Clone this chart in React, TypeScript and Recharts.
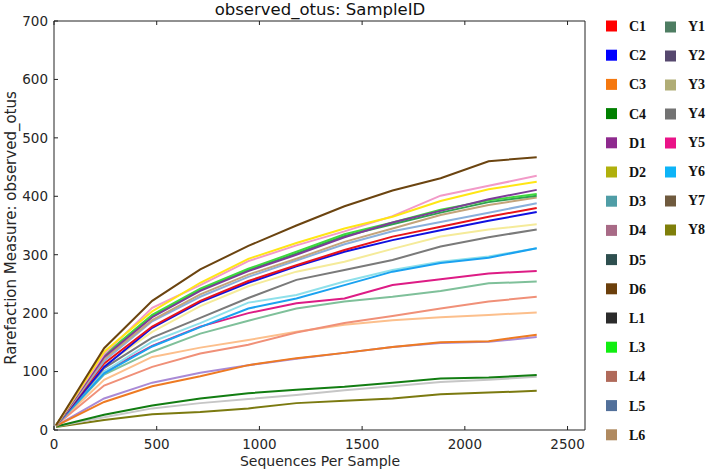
import { LineChart, Line, XAxis, YAxis } from 'recharts';

// sequencing depths (x) shared by every curve
const depths = [10, 244, 478, 712, 946, 1180, 1414, 1648, 1882, 2116, 2350];

const C1 = [8, 114, 177, 221, 255, 282, 308, 331, 348, 365, 380];
const C2 = [8, 108, 175, 219, 252, 280, 305, 325, 342, 358, 373];
const C3 = [7, 48, 75, 92, 111, 123, 132, 142, 150, 152, 163];
const C4 = [6, 26, 42, 54, 63, 69, 74, 81, 88, 90, 94];
const D1 = [8, 125, 193, 238, 272, 300, 330, 355, 375, 395, 411];
const D2 = [8, 134, 203, 252, 293, 320, 345, 365, 392, 412, 425];
const D3 = [8, 100, 151, 183, 218, 231, 254, 274, 288, 297, 311];
const D4 = [8, 130, 209, 248, 289, 316, 340, 366, 401, 418, 435];
const D5 = [8, 127, 195, 240, 274, 302, 332, 352, 372, 390, 401];
const D6 = [8, 140, 221, 275, 315, 350, 383, 410, 431, 460, 467];
const L1 = [8, 106, 158, 192, 226, 257, 274, 291, 314, 330, 343];
const L3 = [8, 128, 197, 242, 276, 305, 335, 355, 377, 393, 404];
const L4 = [8, 76, 108, 131, 146, 167, 183, 195, 208, 220, 228];
const L5 = [8, 118, 186, 228, 262, 290, 318, 340, 356, 372, 388];
const L6 = [8, 122, 188, 232, 266, 293, 322, 345, 368, 385, 398];
const Y1 = [8, 95, 134, 165, 187, 208, 220, 228, 238, 251, 254];
const Y2 = [7, 54, 81, 98, 111, 122, 132, 142, 149, 151, 159];
const Y3 = [8, 110, 168, 212, 246, 271, 288, 310, 331, 343, 352];
const Y4 = [6, 22, 37, 46, 53, 60, 68, 75, 82, 86, 91];
const Y5 = [8, 100, 144, 177, 200, 217, 225, 248, 258, 268, 272];
const Y6 = [8, 97, 143, 176, 208, 225, 248, 271, 286, 295, 311];
const Y7 = [8, 86, 125, 141, 154, 168, 180, 188, 193, 197, 201];
const Y8 = [5, 17, 27, 31, 37, 46, 50, 54, 61, 64, 67];

const seriesValues: Record<string, number[]> = {
  C1, C2, C3, C4, D1, D2, D3, D4, D5, D6, L1, L3, L4, L5, L6,
  Y1, Y2, Y3, Y4, Y5, Y6, Y7, Y8,
};

const legendCol1 = ['C1', 'C2', 'C3', 'C4', 'D1', 'D2', 'D3', 'D4', 'D5', 'D6', 'L1', 'L3', 'L4', 'L5', 'L6'];
const legendCol2 = ['Y1', 'Y2', 'Y3', 'Y4', 'Y5', 'Y6', 'Y7', 'Y8'];

// legend swatch colours (as printed in the legend)
const legendColors: Record<string, string> = {
  C1: '#ff0000', C2: '#0000ff', C3: '#f5780f', C4: '#008000',
  D1: '#8e2a8e', D2: '#b0b00c', D3: '#4f9da6', D4: '#a86a86',
  D5: '#2e4f4f', D6: '#6b3f0b', L1: '#2b2b2b', L3: '#11ee11',
  L4: '#b06a5a', L5: '#52709a', L6: '#b08a60',
  Y1: '#4e7d62', Y2: '#56486e', Y3: '#b0ad76', Y4: '#737373',
  Y5: '#ea1388', Y6: '#0db4f7', Y7: '#6f5a3e', Y8: '#7f7f0a',
};

// line colours (as drawn in the plot)
const lineColors: Record<string, string> = {
  C1: '#e8141a', C2: '#1010e0', C3: '#ee7a22', C4: '#127d12',
  D1: '#7d3c98', D2: '#ffe614', D3: '#8ee0ea', D4: '#f29ac8',
  D5: '#30a050', D6: '#6b4410', L1: '#7a7a7a', L3: '#3ed83e',
  L4: '#f09078', L5: '#8ab0dc', L6: '#c4a47a',
  Y1: '#7fc09a', Y2: '#a98ad6', Y3: '#f5eb9a', Y4: '#c6c6c6',
  Y5: '#dd1c85', Y6: '#1aa2f0', Y7: '#fcbf8c', Y8: '#7b7a10',
};

// draw order: bottom of the stack first
const drawOrder = [
  'Y8', 'Y4', 'C4', 'Y2', 'C3', 'Y7', 'L4', 'Y1', 'Y5', 'D3', 'Y6', 'L1', 'Y3',
  'C2', 'C1', 'L5', 'L6', 'D5', 'L3', 'D1', 'D4', 'D2', 'D6',
];

const xTicks = [0, 500, 1000, 1500, 2000, 2500];
const yTicks = [0, 100, 200, 300, 400, 500, 600, 700];

const rows = depths.map((x, i) => {
  const row: Record<string, number> = { x };
  Object.keys(seriesValues).forEach((k) => {
    row[k] = seriesValues[k][i];
  });
  return row;
});

const FONT = '"DejaVu Sans", sans-serif';
const AXIS = '#222222';
const noTick = () => null;

export default function App() {
  const tickStyle = { fontFamily: FONT, fontSize: 13.5, fill: '#262626' };

  return (
    <div style={{ position: 'absolute', left: 0, top: 0, width: 715, height: 473, background: '#fff' }}>
      <LineChart width={715} height={473} data={rows} margin={{ top: 0, right: 0, bottom: 0, left: 0 }}>
        <XAxis
          dataKey="x"
          type="number"
          domain={[0, 2585]}
          ticks={xTicks}
          height={43}
          tickSize={-4}
          tickMargin={13}
          stroke={AXIS}
          tick={tickStyle}
        />
        <XAxis
          xAxisId="top"
          orientation="top"
          dataKey="x"
          type="number"
          domain={[0, 2585]}
          ticks={xTicks}
          height={21}
          tickSize={-4}
          stroke={AXIS}
          tick={noTick}
        />
        <YAxis
          type="number"
          domain={[0, 700]}
          ticks={yTicks}
          width={54}
          tickSize={-4}
          tickMargin={10}
          stroke={AXIS}
          tick={tickStyle}
        />
        <YAxis
          yAxisId="right"
          orientation="right"
          type="number"
          domain={[0, 700]}
          ticks={yTicks}
          width={130}
          tickSize={-4}
          stroke={AXIS}
          tick={noTick}
        />
        {drawOrder.map((k) => (
          <Line
            key={k}
            type="linear"
            dataKey={k}
            stroke={lineColors[k]}
            strokeWidth={2}
            dot={false}
            isAnimationActive={false}
          />
        ))}
      </LineChart>

      <svg
        width={715}
        height={473}
        style={{ position: 'absolute', left: 0, top: 0, pointerEvents: 'none' }}
      >
        <text x={320} y={15} textAnchor="middle" fontFamily={FONT} fontSize={16.5} fill="#111">
          observed_otus: SampleID
        </text>
        <text x={320} y={466} textAnchor="middle" fontFamily={FONT} fontSize={14} fill="#262626">
          Sequences Per Sample
        </text>
        <text
          transform="translate(16,228) rotate(-90)"
          textAnchor="middle"
          fontFamily={FONT}
          fontSize={15}
          fill="#262626"
        >
          Rarefaction Measure: observed_otus
        </text>
        {legendCol1.map((k, i) => (
          <g key={k}>
            <rect x={606} y={26 + i * 29.2 - 5.5} width={11} height={11} fill={legendColors[k]} />
            <text
              x={629}
              y={26 + i * 29.2 + 5}
              fontFamily='"Liberation Serif", serif'
              fontWeight="bold"
              fontSize={14}
              fill="#111"
            >
              {k}
            </text>
          </g>
        ))}
        {legendCol2.map((k, i) => (
          <g key={k}>
            <rect x={665} y={27 + i * 29 - 5.5} width={11} height={11} fill={legendColors[k]} />
            <text
              x={688}
              y={27 + i * 29 + 4}
              fontFamily='"Liberation Serif", serif'
              fontWeight="bold"
              fontSize={14}
              fill="#111"
            >
              {k}
            </text>
          </g>
        ))}
      </svg>
    </div>
  );
}
